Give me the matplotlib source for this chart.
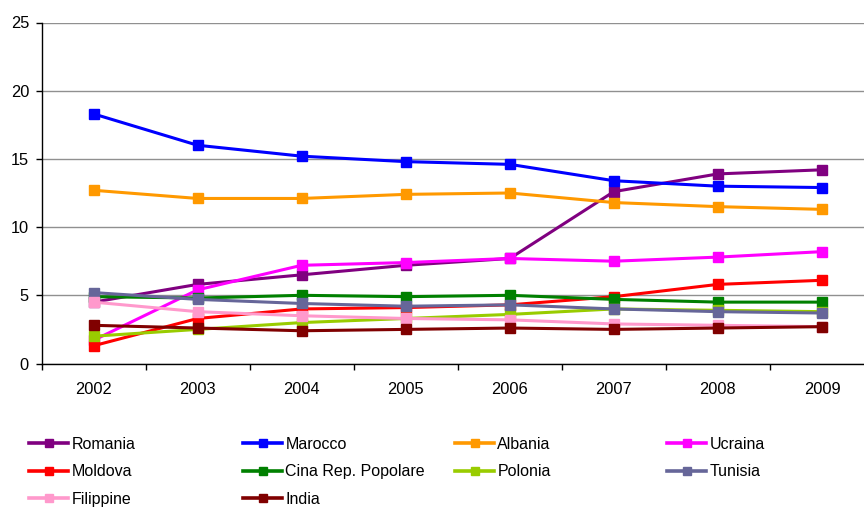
import numpy as np
import matplotlib
matplotlib.use('Agg')
import matplotlib.pyplot as plt
from matplotlib.lines import Line2D

years = ['2002', '2003', '2004', '2005', '2006', '2007', '2008', '2009']

romania   = [4.5, 5.8, 6.5, 7.2, 7.7, 12.6, 13.9, 14.2]
marocco   = [18.3, 16.0, 15.2, 14.8, 14.6, 13.4, 13.0, 12.9]
albania   = [12.7, 12.1, 12.1, 12.4, 12.5, 11.8, 11.5, 11.3]
ucraina   = [1.7, 5.4, 7.2, 7.4, 7.7, 7.5, 7.8, 8.2]
moldova   = [1.3, 3.3, 4.0, 4.1, 4.3, 4.9, 5.8, 6.1]
cina      = [4.9, 4.8, 5.0, 4.9, 5.0, 4.7, 4.5, 4.5]
polonia   = [2.0, 2.5, 3.0, 3.3, 3.6, 4.0, 3.9, 3.8]
tunisia   = [5.2, 4.7, 4.4, 4.2, 4.3, 4.0, 3.8, 3.7]
filippine = [4.5, 3.8, 3.5, 3.3, 3.2, 2.9, 2.8, 2.7]
india     = [2.8, 2.6, 2.4, 2.5, 2.6, 2.5, 2.6, 2.7]

names = ['Romania', 'Marocco', 'Albania', 'Ucraina', 'Moldova',
         'Cina Rep. Popolare', 'Polonia', 'Tunisia', 'Filippine', 'India']
series = [romania, marocco, albania, ucraina, moldova,
          cina, polonia, tunisia, filippine, india]
colors = ['#800080', '#0000FF', '#FF9900', '#FF00FF', '#FF0000',
          '#008000', '#99CC00', '#666699', '#FF99CC', '#800000']

plt.rcParams['font.family'] = ['Liberation Sans', 'DejaVu Sans']

fig = plt.figure(figsize=(8.64, 5.07), dpi=100)
ax = fig.add_axes([41.5/864, 1-363.5/507, 832.5/864, 341/507])

x = np.arange(len(years))
for vals, c in zip(series, colors):
    ax.plot(x, vals, color=c, lw=2.2, marker='s', ms=6.5, mec=c, mfc=c, clip_on=False)

ax.set_xlim(-0.5, len(years)-0.5)
ax.set_ylim(0, 25)
ax.set_yticks(np.arange(0, 26, 5))
ax.yaxis.grid(True, color='#909090', lw=1)
ax.set_axisbelow(True)

# category boundaries get the tick marks, centres get the labels
ax.set_xticks(np.arange(-0.5, len(years), 1.0))
ax.set_xticklabels([])
ax.set_xticks(x, minor=True)
ax.set_xticklabels(years, minor=True)
ax.tick_params(axis='x', which='minor', length=0, pad=13, labelsize=11.8)
ax.tick_params(axis='both', which='major', direction='out', length=4, width=1, color='k', labelsize=11.8)
ax.tick_params(axis='y', pad=5)

for s in ['top', 'right']:
    ax.spines[s].set_visible(False)
ax.spines['left'].set_linewidth(1)
ax.spines['bottom'].set_linewidth(1)

# legend, four columns placed by hand
handles = [Line2D([], [], color=c, lw=2.6, marker='s', ms=5.5, mec=c, mfc=c) for c in colors]
cols = [[0, 4, 8], [1, 5, 9], [2, 6], [3, 7]]
col_x = [29, 243, 455, 667]
for idx, cx in zip(cols, col_x):
    fig.legend([handles[i] for i in idx], [names[i] for i in idx],
               loc='upper left', bbox_to_anchor=(cx/864, 1-437/507),
               frameon=False, fontsize=11.5, handlelength=2.45, handletextpad=0.2,
               labelspacing=0.78, borderaxespad=0, borderpad=0)

fig.savefig('out.png', dpi=100)
